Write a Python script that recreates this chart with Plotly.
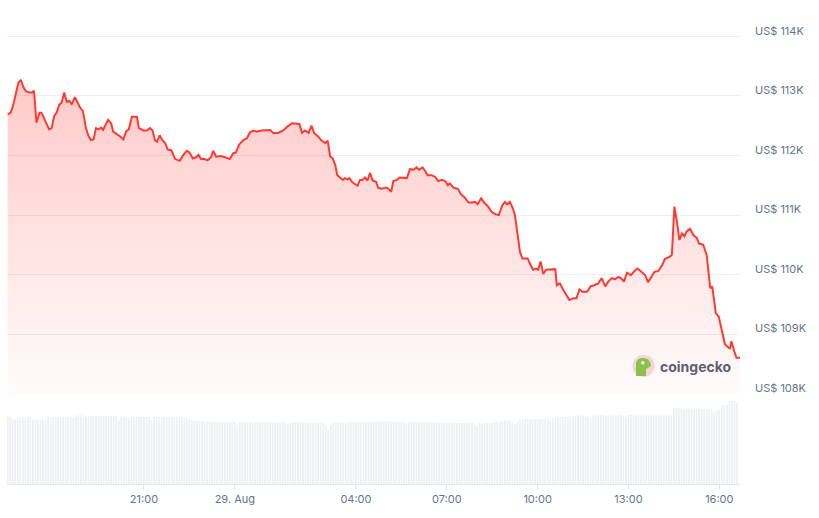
import pandas as pd
import plotly.graph_objects as go

# ---------------- data ----------------
start_time = "2025-08-28 16:30"

# price samples: minutes after start, price in USD
price_minutes = [
    0, 6, 11, 18, 21, 26, 31, 36, 43, 48,
    52, 57, 63, 67, 73, 77, 82, 87, 92, 97,
    102, 107, 112, 117, 122, 127, 133, 138, 143, 149,
    155, 160, 165, 170, 175, 180, 185, 189, 195, 199,
    205, 209, 216, 223, 229, 235, 240, 246, 256, 260,
    269, 275, 282, 287, 292, 296, 301, 306, 312, 317,
    324, 328, 332, 341, 348, 355, 360, 367, 373, 378,
    383, 390, 396, 403, 407, 413, 421, 431, 440, 447,
    452, 459, 467, 474, 480, 487, 493, 503, 513, 520,
    526, 536, 546, 553, 563, 573, 578, 583, 589, 596,
    602, 607, 615, 622, 629, 634, 639, 644, 649, 653,
    658, 664, 668, 673, 677, 682, 688, 693, 698, 703,
    708, 713, 718, 723, 730, 734, 741, 751, 760, 764,
    771, 777, 791, 797, 804, 810, 815, 822, 827, 832,
    840, 847, 853, 860, 867, 872, 876, 883, 892, 898,
    906, 913, 919, 926, 931, 938, 944, 952, 959, 967,
    973, 980, 985, 990, 995, 1000, 1005, 1010, 1015, 1020,
    1030, 1036, 1041, 1047, 1051, 1056, 1061, 1067, 1075, 1085,
    1088, 1094, 1101, 1106, 1113, 1121, 1127, 1133, 1139, 1148,
    1155, 1162, 1170, 1177, 1184, 1190, 1197, 1203, 1210, 1215,
    1221, 1227, 1232, 1235, 1242, 1248, 1255, 1263, 1269, 1276,
    1281, 1289, 1297, 1302, 1312, 1316, 1321, 1326, 1331, 1336,
    1341, 1345, 1352, 1359, 1365, 1370, 1378, 1385, 1392, 1396,
    1403, 1409, 1416, 1421, 1431, 1434, 1440, 1444, 1451,
]
price_usd = [
    112690, 112720, 112850, 113100, 113220, 113270, 113150, 113080, 113060, 113060,
    113090, 112550, 112720, 112720, 112600, 112550, 112440, 112460, 112660, 112720,
    112850, 112890, 113060, 112900, 112920, 112860, 112980, 112900, 112810, 112750,
    112460, 112330, 112260, 112270, 112460, 112440, 112470, 112430, 112540, 112600,
    112540, 112400, 112360, 112320, 112270, 112410, 112440, 112650, 112650, 112460,
    112420, 112420, 112460, 112420, 112250, 112230, 112340, 112260, 112210, 112100,
    112090, 112010, 111940, 111910, 112010, 112080, 112050, 111950, 111970, 112010,
    111940, 111940, 111920, 111970, 112080, 111980, 111990, 111970, 111940, 112040,
    112050, 112190, 112260, 112290, 112390, 112420, 112400, 112420, 112420, 112430,
    112380, 112380, 112420, 112480, 112540, 112530, 112530, 112380, 112420, 112380,
    112500, 112380, 112320, 112250, 112210, 112250, 111980, 111950, 111840, 111670,
    111640, 111590, 111620, 111600, 111620, 111560, 111520, 111490, 111590, 111590,
    111630, 111580, 111710, 111580, 111560, 111460, 111440, 111460, 111390, 111570,
    111590, 111630, 111620, 111770, 111760, 111800, 111760, 111800, 111740, 111670,
    111670, 111640, 111570, 111590, 111570, 111500, 111530, 111460, 111440, 111350,
    111290, 111210, 111210, 111220, 111180, 111280, 111210, 111140, 111050, 111010,
    111000, 111160, 111220, 111180, 111220, 111130, 111000, 110660, 110380, 110270,
    110270, 110160, 110080, 110100, 110080, 110220, 110010, 110080, 110090, 110090,
    109820, 109850, 109740, 109660, 109570, 109600, 109600, 109750, 109710, 109710,
    109800, 109820, 109850, 109940, 109800, 109880, 109940, 109920, 109960, 109940,
    109880, 110030, 110010, 109990, 110060, 110100, 110050, 109990, 109870, 109980,
    110040, 110060, 110160, 110260, 110300, 110330, 111140, 110890, 110580, 110690,
    110640, 110720, 110770, 110660, 110620, 110520, 110500, 110330, 109770, 109800,
    109350, 109290, 109040, 108830, 108750, 108880, 108700, 108600, 108600,
]

# 24h volume (US$ billions), one bar every 5 minutes from start_time
volume_bn = [
    40.6, 40.2, 38.8, 38.6, 39.6, 40.0, 40.2, 39.6, 40.0, 40.2, 38.6, 38.8,
    38.6, 38.6, 39.0, 38.4, 40.2, 39.8, 40.2, 40.4, 40.2, 40.0, 40.6, 40.4,
    40.4, 40.6, 40.2, 40.8, 41.6, 41.4, 40.4, 40.6, 40.6, 40.8, 40.6, 40.8,
    40.8, 40.6, 40.8, 40.6, 40.8, 40.8, 40.6, 40.8, 38.0, 40.6, 40.8, 40.4,
    39.6, 40.2, 40.0, 40.2, 40.4, 40.2, 40.4, 40.4, 40.2, 38.2, 40.2, 40.4,
    40.4, 40.2, 40.6, 40.4, 40.2, 40.0, 40.4, 40.4, 40.2, 39.8, 39.6, 39.2,
    38.8, 38.4, 38.0, 38.0, 37.8, 37.8, 37.6, 37.6, 37.4, 37.4, 37.4, 37.4,
    37.2, 37.2, 37.2, 37.2, 37.0, 37.0, 37.2, 35.6, 37.0, 37.2, 37.0, 37.0,
    37.0, 36.8, 37.0, 37.0, 36.8, 37.0, 37.0, 37.2, 37.0, 36.8, 36.8, 37.0,
    37.0, 37.2, 36.8, 35.8, 36.8, 37.0, 36.8, 37.0, 36.8, 37.0, 36.8, 36.8,
    36.8, 36.8, 36.6, 36.8, 36.8, 36.8, 35.2, 32.8, 35.4, 36.4, 36.8, 37.0,
    36.8, 37.0, 36.8, 37.0, 37.0, 37.0, 37.0, 37.2, 37.0, 37.2, 37.2, 37.2,
    37.4, 37.4, 37.6, 37.4, 37.6, 37.6, 37.6, 37.4, 37.6, 37.4, 37.4, 37.2,
    37.2, 37.2, 36.8, 37.2, 37.2, 37.4, 37.2, 37.2, 37.0, 37.2, 37.2, 37.0,
    37.0, 37.0, 36.8, 36.8, 36.6, 36.8, 36.8, 36.6, 36.8, 36.6, 36.8, 36.6,
    36.6, 36.8, 36.6, 36.4, 36.6, 36.4, 35.2, 36.6, 36.2, 36.4, 36.6, 36.4,
    36.4, 37.0, 37.4, 37.0, 37.8, 38.2, 37.6, 38.4, 37.2, 35.8, 37.4, 38.4,
    38.6, 38.8, 38.8, 38.6, 39.0, 38.8, 39.2, 38.6, 39.0, 39.2, 39.2, 37.8,
    39.4, 39.8, 40.0, 40.0, 40.2, 40.2, 40.4, 40.6, 40.6, 40.8, 41.0, 41.0,
    41.2, 41.0, 40.6, 39.8, 41.2, 41.0, 41.2, 41.4, 41.2, 41.0, 41.2, 41.4,
    41.2, 41.2, 41.4, 41.6, 41.0, 40.0, 41.2, 41.4, 41.2, 41.2, 41.4, 41.2,
    41.2, 41.2, 41.2, 41.0, 41.2, 41.2, 41.2, 41.0, 41.2, 41.2, 41.0, 41.2,
    45.4, 45.8, 45.6, 45.4, 45.2, 45.6, 45.4, 45.6, 45.2, 45.2, 45.4, 45.2,
    45.0, 45.2, 45.0, 44.8, 43.0, 44.0, 44.4, 47.0, 47.6, 47.4, 49.8, 49.8,
    50.0, 48.6,
]

x_tick_times = ["2025-08-28 21:00", "2025-08-29 00:00", "2025-08-29 04:00",
                "2025-08-29 07:00", "2025-08-29 10:00", "2025-08-29 13:00",
                "2025-08-29 16:00"]
x_tick_labels = ["21:00", "29. Aug", "04:00", "07:00", "10:00", "13:00", "16:00"]

y_tick_values = [108000, 109000, 110000, 111000, 112000, 113000, 114000]
y_tick_labels = ["US$ 108K", "US$ 109K", "US$ 110K", "US$ 111K",
                 "US$ 112K", "US$ 113K", "US$ 114K"]

# ---------------- build ----------------
t0 = pd.Timestamp(start_time)
price_times = [t0 + pd.Timedelta(minutes=m) for m in price_minutes]
vol_times = [t0 + pd.Timedelta(minutes=5 * i) for i in range(len(volume_bn))]

FONT = "Inter, Roboto, 'Noto Sans', sans-serif"
TXT = "#677489"
GRID = "#eceef1"

fig = go.Figure()
fig.add_trace(go.Bar(
    x=vol_times, y=volume_bn, xaxis="x", yaxis="y2",
    marker=dict(color="#eef0f3", line=dict(width=0)),
    hoverinfo="skip",
))
fig.add_trace(go.Scatter(
    x=price_times, y=price_usd, xaxis="x", yaxis="y",
    mode="lines", line=dict(color="#ff3a33", width=2),
    fill="tozeroy",
    fillgradient=dict(type="vertical", start=108000, stop=113300,
                      colorscale=[[0, "rgba(255,58,51,0.02)"],
                                  [1, "rgba(255,58,51,0.27)"]]),
    hoverinfo="skip",
))

W, H = 819, 518
ml, mr, mt, mb = 7, 79, 20, 34
pw, ph = W - ml - mr, H - mt - mb

def px(xp):
    return (xp - ml) / pw

def py(yp):
    return (H - mb - yp) / ph

fig.update_layout(
    width=W, height=H,
    margin=dict(l=ml, r=mr, t=mt, b=mb, pad=0),
    paper_bgcolor="white", plot_bgcolor="white",
    showlegend=False, bargap=0.3, hovermode=False,
    font=dict(family=FONT, size=11, color=TXT),
    xaxis=dict(
        type="date", anchor="y2",
        range=["2025-08-28 16:28:36", "2025-08-29 16:41:00"],
        showgrid=False, zeroline=False,
        showline=True, linecolor="#e3e6ea", linewidth=1,
        ticks="outside", ticklen=5, tickcolor="#e3e6ea", tickwidth=1,
        tickvals=x_tick_times, ticktext=x_tick_labels,
        tickfont=dict(family=FONT, size=11, color=TXT),
    ),
    yaxis=dict(
        domain=[0.195, 1], anchor="x", side="right",
        range=[108000, 114277],
        tickvals=y_tick_values, ticktext=y_tick_labels,
        showgrid=True, gridcolor=GRID, gridwidth=1,
        zeroline=False, showline=False, ticks="",
        ticklabelposition="outside top", ticklabelstandoff=14,
        ticklabelshift=2,
        tickfont=dict(family=FONT, size=11, color=TXT),
    ),
    yaxis2=dict(
        domain=[0, 0.19], anchor="x", range=[0, 52.9],
        showticklabels=False, showgrid=False, zeroline=False, showline=False,
    ),
)

# coingecko watermark
cx, cy, r = 643.5, 366, 11
fig.add_shape(type="circle", xref="paper", yref="paper",
              x0=px(cx - r), x1=px(cx + r), y0=py(cy + r), y1=py(cy - r),
              fillcolor="#f7d3d3", line=dict(width=0), layer="above")
fig.add_shape(type="path", xref="paper", yref="paper",
              path=(f"M {px(636)} {py(376)} L {px(636)} {py(363)} "
                    f"Q {px(637)} {py(358)} {px(643)} {py(358)} "
                    f"Q {px(650)} {py(358)} {px(651)} {py(366)} "
                    f"L {px(646)} {py(369)} L {px(646)} {py(376)} Z"),
              fillcolor="#8bc34a", line=dict(width=0), layer="above")
fig.add_shape(type="circle", xref="paper", yref="paper",
              x0=px(641), x1=px(644.5), y0=py(364.5), y1=py(361),
              fillcolor="white", line=dict(width=0), layer="above")
fig.add_annotation(xref="paper", yref="paper", x=px(658), y=py(366.5),
                   xanchor="left", yanchor="middle", showarrow=False,
                   text="<b>coingecko</b>",
                   font=dict(family=FONT, size=14, color="#5f5f73"))

fig.write_html("out.html",
               config={"displayModeBar": False, "staticPlot": True},
               post_script="document.body.style.margin='0';"
                           "document.body.style.overflow='hidden';")
